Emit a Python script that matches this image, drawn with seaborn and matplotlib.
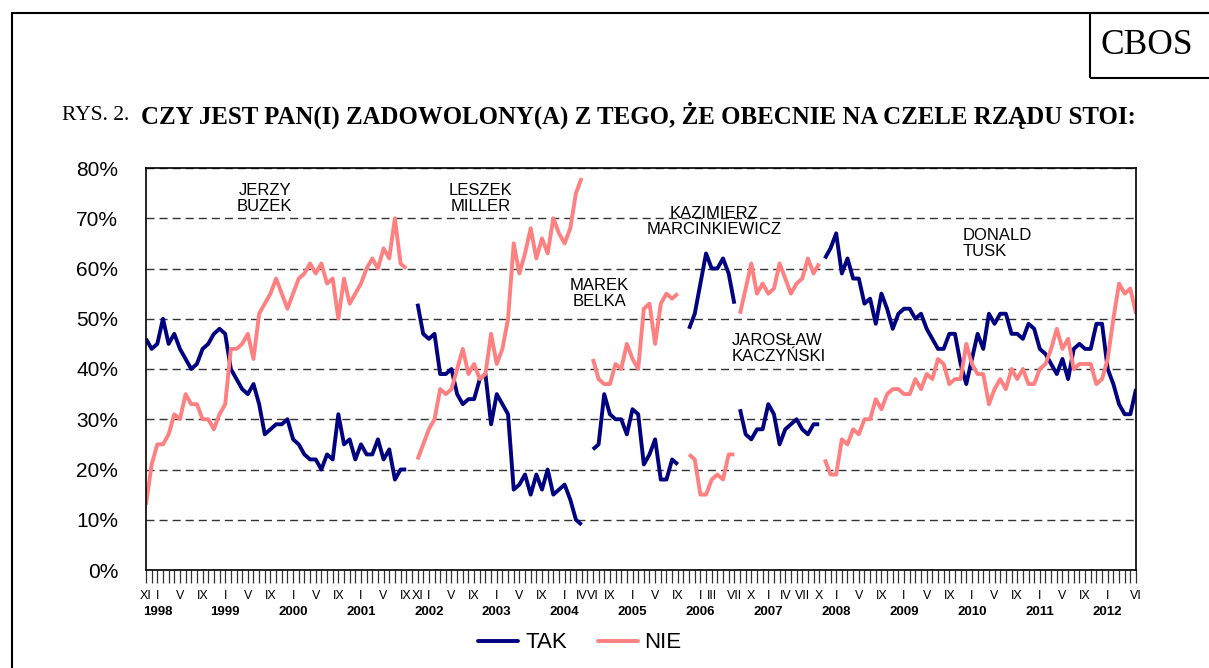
import matplotlib
matplotlib.use("Agg")
import matplotlib.pyplot as plt
import matplotlib.transforms as mtransforms
from matplotlib.lines import Line2D
from matplotlib.patches import Rectangle
import pandas as pd
import seaborn as sns

# --- dane, jeden punkt = jeden miesiąc badania ---
# numer miesiąca na osi (0 = XI 1997), puste miesiące to przerwy między rządami
buzek_start, miller_start, belka_start = 0, 48, 79
marc_start, kacz_start, tusk_start = 96, 105, 120
n_slots = 176

buzek_tak = [46, 44, 45, 50, 45, 47, 44, 42, 40, 41, 44, 45, 47, 48, 47, 40, 38, 36, 35, 37,
             33, 27, 28, 29, 29, 30, 26, 25, 23, 22, 22, 20, 23, 22, 31, 25, 26, 22, 25, 23,
             23, 26, 22, 24, 18, 20, 20]
buzek_nie = [13, 21, 25, 25, 27, 31, 30, 35, 33, 33, 30, 30, 28, 31, 33, 44, 44, 45, 47, 42,
             51, 53, 55, 58, 55, 52, 55, 58, 59, 61, 59, 61, 57, 58, 50, 58, 53, 55, 57, 60,
             62, 60, 64, 62, 70, 61, 60]
miller_tak = [53, 47, 46, 47, 39, 39, 40, 35, 33, 34, 34, 38, 39, 29, 35, 33, 31, 16, 17, 19,
              15, 19, 16, 20, 15, 16, 17, 14, 10, 9]
miller_nie = [22, 25, 28, 30, 36, 35, 36, 40, 44, 39, 41, 38, 39, 47, 41, 44, 50, 65, 59, 63,
              68, 62, 66, 63, 70, 67, 65, 68, 75, 78]
belka_tak = [24, 25, 35, 31, 30, 30, 27, 32, 31, 21, 23, 26, 18, 18, 22, 21]
belka_nie = [42, 38, 37, 37, 41, 40, 45, 42, 40, 52, 53, 45, 53, 55, 54, 55]
marc_tak = [48, 51, 57, 63, 60, 60, 62, 59, 53]
marc_nie = [23, 22, 15, 15, 18, 19, 18, 23, 23]
kacz_tak = [32, 27, 26, 28, 28, 33, 31, 25, 28, 29, 30, 28, 27, 29, 29]
kacz_nie = [51, 56, 61, 55, 57, 55, 56, 61, 58, 55, 57, 58, 62, 59, 61]
tusk_tak = [62, 64, 67, 59, 62, 58, 58, 53, 54, 49, 55, 52, 48, 51, 52, 52, 50, 51, 48, 46,
            44, 44, 47, 47, 41, 37, 42, 47, 44, 51, 49, 51, 51, 47, 47, 46, 49, 48, 44, 43,
            41, 39, 42, 38, 44, 45, 44, 44, 49, 49, 40, 37, 33, 31, 31, 36]
tusk_nie = [22, 19, 19, 26, 25, 28, 27, 30, 30, 34, 32, 35, 36, 36, 35, 35, 38, 36, 39, 38,
            42, 41, 37, 38, 38, 45, 41, 39, 39, 33, 36, 38, 36, 40, 38, 40, 37, 37, 40, 41,
            44, 48, 44, 46, 40, 41, 41, 41, 37, 38, 42, 50, 57, 55, 56, 51]

# podpisy miesięcy na osi X
month_ticks = [0, 2, 6, 10, 14, 18, 22, 26, 30, 34, 38, 42, 46, 48, 50, 54, 58, 62, 66, 70,
               74, 77, 79, 82, 86, 90, 94, 98, 100, 104, 107, 110, 113, 116, 119, 122, 126,
               130, 134, 138, 142, 146, 150, 154, 158, 162, 166, 170, 175]
month_labels = ["XI", "I", "V", "IX", "I", "V", "IX", "I", "V", "IX", "I", "V", "IX", "XI",
                "I", "V", "IX", "I", "V", "IX", "I", "IV", "VI", "IX", "I", "V", "IX", "I",
                "III", "VII", "X", "I", "IV", "VII", "X", "I", "V", "IX", "I", "V", "IX", "I",
                "V", "IX", "I", "V", "IX", "I", "VI"]
year_ticks = [2, 14, 26, 38, 50, 62, 74, 86, 98, 110, 122, 134, 146, 158, 170]
year_labels = [str(y) for y in range(1998, 2013)]

rows = []
segments = [
    ("Buzek", buzek_start, buzek_tak, buzek_nie),
    ("Miller", miller_start, miller_tak, miller_nie),
    ("Belka", belka_start, belka_tak, belka_nie),
    ("Marcinkiewicz", marc_start, marc_tak, marc_nie),
    ("Kaczynski", kacz_start, kacz_tak, kacz_nie),
    ("Tusk", tusk_start, tusk_tak, tusk_nie),
]
for name, start, tak, nie in segments:
    for i, v in enumerate(tak):
        rows.append({"slot": start + i, "value": v, "series": "TAK", "segment": name})
    for i, v in enumerate(nie):
        rows.append({"slot": start + i, "value": v, "series": "NIE", "segment": name})
df = pd.DataFrame(rows)

# --- wygląd ---
W, H = 1209, 668


def fx(px):
    return px / W


def fy(py):
    return 1 - py / H


sns.set_theme(style="white")
plt.rcParams['font.family'] = ['Liberation Sans', 'DejaVu Sans']
plt.rcParams['text.color'] = 'black'
plt.rcParams['xtick.color'] = 'black'
plt.rcParams['ytick.color'] = 'black'

colors = {"TAK": "#000080", "NIE": "#FF8080"}
serif = ["Liberation Serif", "DejaVu Serif"]

fig = plt.figure(figsize=(W / 100, H / 100), dpi=100)
ax = fig.add_axes([fx(146), fy(570), fx(1136) - fx(146), fy(168) - fy(570)])

sns.lineplot(data=df, x="slot", y="value", hue="series", units="segment",
             estimator=None, sort=False, hue_order=["TAK", "NIE"], palette=colors,
             linewidth=2.8, legend=False, ax=ax,
             solid_joinstyle="round", solid_capstyle="butt")

ax.set_xlim(0, n_slots - 1)
ax.set_ylim(0, 80)
ax.set_xlabel("")
ax.set_ylabel("")

# oś Y
ax.set_yticks(range(0, 81, 10))
ax.set_yticklabels([f"{v}%" for v in range(0, 81, 10)], fontsize=15)
ax.yaxis.grid(True, linestyle=(0, (5.8, 3.6)), color="#333333", linewidth=1)
ax.set_axisbelow(True)
ax.tick_params(axis="y", length=0, pad=20)

# oś X: kreska co miesiąc, podpisy tylko dla wybranych
xticklabels = [""] * n_slots
for t, lab in zip(month_ticks, month_labels):
    xticklabels[t] = lab
ax.set_xticks(range(n_slots))
ax.set_xticklabels(xticklabels, fontsize=9)
ax.tick_params(axis="x", direction="out", length=9.5, width=0.9, color="#333333",
               pad=5, bottom=True)

trans = mtransforms.blended_transform_factory(ax.transData, fig.transFigure)
for t, lab in zip(year_ticks, year_labels):
    ax.text(t, fy(612), lab, transform=trans, ha="center", va="center",
            fontsize=9.5, fontweight="bold")

for side in ["left", "right", "top", "bottom"]:
    ax.spines[side].set_visible(True)
    ax.spines[side].set_color("black")
    ax.spines[side].set_linewidth(1.2)

# nazwiska premierów
ann = dict(fontsize=12, linespacing=1.1, va="center")
ax.text(21.0, 73.9, "JERZY\nBUZEK", ha="center", multialignment="center", **ann)
ax.text(59.2, 73.9, "LESZEK\nMILLER", ha="center", multialignment="center", **ann)
ax.text(80.1, 55.0, "MAREK\nBELKA", ha="center", multialignment="center", **ann)
ax.text(100.4, 69.3, "KAZIMIERZ\nMARCINKIEWICZ", ha="center", multialignment="center", **ann)
ax.text(103.6, 44.1, "JAROSŁAW\nKACZYŃSKI", ha="left", multialignment="left", **ann)
ax.text(144.4, 64.9, "DONALD\nTUSK", ha="left", multialignment="left", **ann)

# legenda
handles = [Line2D([], [], color=colors["TAK"], linewidth=2.8),
           Line2D([], [], color=colors["NIE"], linewidth=2.8)]
fig.legend(handles, ["TAK", "NIE"], loc="center", bbox_to_anchor=(fx(580), fy(643)),
           ncol=2, frameon=False, fontsize=16, handlelength=1.8, handletextpad=0.3,
           columnspacing=1.4)

# ramka strony, skrzynka CBOS i tytuł
fig.patches.append(Rectangle((fx(12), fy(700)), fx(1250) - fx(12), fy(13) - fy(700),
                             transform=fig.transFigure, fill=False, edgecolor="black",
                             linewidth=1.5))
fig.patches.append(Rectangle((fx(1090), fy(78)), fx(1250) - fx(1090), fy(13) - fy(78),
                             transform=fig.transFigure, fill=False, edgecolor="black",
                             linewidth=1.5))
fig.text(fx(1147), fy(45), "CBOS", ha="center", va="center", fontsize=25.5, family=serif)
fig.text(fx(62), fy(115), "RYS. 2.", ha="left", va="center", fontsize=15.5, family=serif)
fig.text(fx(141), fy(115), "CZY JEST PAN(I) ZADOWOLONY(A) Z TEGO, ŻE OBECNIE NA CZELE RZĄDU STOI:",
         ha="left", va="center", fontsize=17.9, fontweight="bold", family=serif)

fig.savefig("out.png", dpi=100)
